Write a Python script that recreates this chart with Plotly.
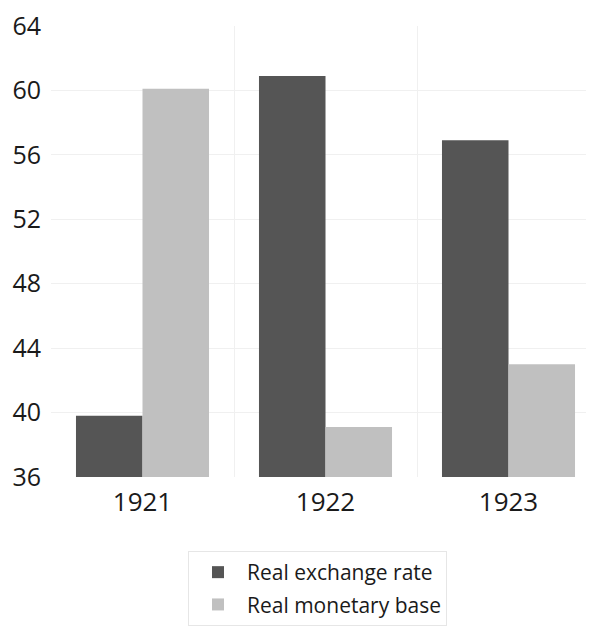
import plotly.graph_objects as go

years = ["1921", "1922", "1923"]
real_exchange_rate = [39.8, 60.9, 56.9]
real_monetary_base = [60.1, 39.1, 43.0]
y_ticks = [36, 40, 44, 48, 52, 56, 60, 64]

# page body has an 8px margin; figure is sized to fill the rest of the window
OFF = 8
W, H = 594 - OFF, 626 - OFF
ML, MT, MB = 51 - OFF, 26 - OFF, 148
plot_w = W - ML
plot_h = H - MT - MB

fig = go.Figure()
fig.add_trace(go.Bar(x=years, y=real_exchange_rate, name="Real exchange rate",
                     marker=dict(color="#555555", line=dict(width=0)),
                     legendgroup="a"))
fig.add_trace(go.Bar(x=years, y=real_monetary_base, name="Real monetary base",
                     marker=dict(color="#c0c0c0", line=dict(width=0)),
                     legendgroup="b"))

cat_px = 183.0
right_range = -0.5 + plot_w / cat_px

legend_left = 188 - OFF
legend_top = 552 - OFF

fig.update_layout(
    width=W, height=H,
    margin=dict(l=ML, r=0, t=MT, b=MB),
    plot_bgcolor="white", paper_bgcolor="white",
    barmode="group", bargap=0.273, bargroupgap=0,
    font=dict(family="Open Sans, sans-serif", color="#1a1a1a"),
    xaxis=dict(type="category", range=[-0.5, right_range], tickson="boundaries",
               showgrid=True, gridcolor="#f0f0f0", gridwidth=1,
               ticks="", showline=False, zeroline=False,
               tickfont=dict(size=26), ticklabelstandoff=7),
    yaxis=dict(range=[36, 64], tickvals=y_ticks, showgrid=True,
               gridcolor="#f0f0f0", gridwidth=1, zeroline=False, showline=False,
               ticks="", tickfont=dict(size=25), ticklabelstandoff=9,
               ticklabeloverflow="allow"),
    legend=dict(x=(legend_left - ML) / plot_w, xanchor="left",
                y=(MT + plot_h - legend_top) / plot_h, yanchor="top",
                bordercolor="#e6e6e6", borderwidth=1, bgcolor="white",
                font=dict(size=21), tracegroupgap=2,
                itemwidth=48, traceorder="grouped"),
    showlegend=True,
)

fig.write_html("out.html")
